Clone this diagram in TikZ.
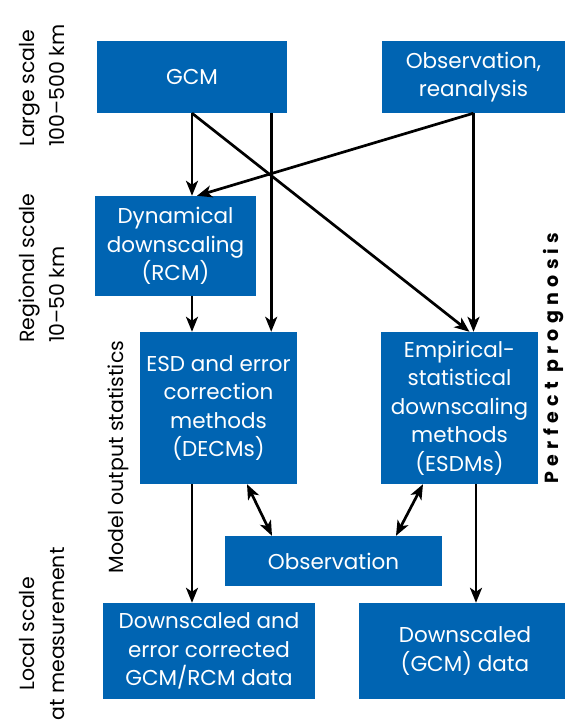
\documentclass[tikz,border=0pt]{standalone}
\usepackage{fontspec}
\setmainfont{Poppins}
\usetikzlibrary{arrows.meta}
\definecolor{boxblue}{RGB}{0,100,178}
\begin{document}
\begin{tikzpicture}[x=1pt,y=-1pt,
  box/.style={fill=boxblue, text=white, inner sep=0pt, align=center, font=\fontsize{21.5}{28.5}\selectfont},
  arr/.style={line width=2.7pt, -{Stealth[length=15pt,width=12pt,inset=4pt]}},
  dbl/.style={line width=2.7pt, {Stealth[length=15pt,width=12pt,inset=4pt]}-{Stealth[length=15pt,width=12pt,inset=4pt]}},
  lbl/.style={rotate=90, inner sep=0pt, font=\fontsize{20.5}{30}\selectfont}]
\useasboundingbox (0,0) rectangle (565,723);
% boxes
\node[box, minimum width=190pt, minimum height=72pt] (gcm) at (192,77) {GCM};
\node[box, minimum width=183pt, minimum height=72pt] (obs) at (473.5,77) {Observation,\\reanalysis};
\node[box, minimum width=161pt, minimum height=100pt] (dyn) at (175.5,246) {Dynamical\\downscaling\\(RCM)};
\node[box, minimum width=157pt, minimum height=152pt] (decm) at (218.5,408) {ESD and error\\correction\\methods\\(DECMs)};
\node[box, minimum width=157pt, minimum height=152pt] (esdm) at (459.5,408) {Empirical-\\statistical\\downscaling\\methods\\(ESDMs)};
\node[box, minimum width=217pt, minimum height=50pt] (obsb) at (333.5,561) {Observation};
\node[box, minimum width=212pt, minimum height=96pt] (dl) at (209,651) {Downscaled and\\error corrected\\GCM/RCM data};
\node[box, minimum width=206pt, minimum height=96pt] (dr) at (462,651) {\hspace*{6pt}Downscaled\\\hspace*{6pt}(GCM) data};
% labels
\node[lbl, anchor=west, align=left] (lsc) at (42,147) {Large scale\\100–500 km};
\node[lbl, anchor=west, align=left] (rsc) at (42,343) {Regional scale\\10–50 km};
\node[lbl, align=center] (loc) at (42,634) {Local scale\\at measurement};
\node[lbl] (mos) at (118,457) {Model output statistics};
\node[rotate=90, inner sep=0pt, font=\fontsize{19}{20}\selectfont\bfseries\addfontfeatures{LetterSpace=28}] (pp) at (553,358) {Perfect prognosis};
% helper coordinates
\coordinate (g2) at ([xshift=-16pt]gcm.south east);
\coordinate (e2) at ([xshift=16.5pt]esdm.south);
% connectors
\draw[arr] (gcm.south) -- (gcm.south |- dyn.north);
\draw[arr] (g2) -- (g2 |- decm.north);
\draw[arr] (gcm.south) -- ([xshift=10pt]esdm.north);
\draw[arr] (obs.south) -- (obs.south |- esdm.north);
\draw[arr] (obs.south) -- ([xshift=21.5pt]dyn.north);
\draw[arr] (gcm.south |- dyn.south) -- (gcm.south |- decm.north);
\draw[arr] (gcm.south |- decm.south) -- (gcm.south |- dl.north);
\draw[arr] (e2) -- (e2 |- dr.north);
\draw[dbl] ([xshift=28.5pt]decm.south) -- ([xshift=-61.5pt]obsb.north);
\draw[dbl] ([xshift=-36.5pt]esdm.south) -- ([xshift=62.5pt]obsb.north);
\end{tikzpicture}
\end{document}
